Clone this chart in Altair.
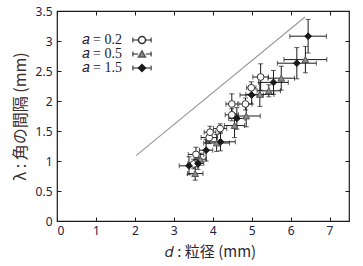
import altair as alt
import pandas as pd

# ---- data ----
series = ["𝑎 = 0.2", "𝑎 = 0.5", "𝑎 = 1.5"]

d02 = [3.51, 3.57, 3.91, 3.93, 4.19, 4.49, 4.49, 4.84, 4.99, 5.23]
l02 = [0.95, 1.11, 1.39, 1.48, 1.54, 1.77, 1.95, 1.95, 2.22, 2.40]
dx02 = [0.15, 0.20, 0.21, 0.15, 0.17, 0.17, 0.15, 0.17, 0.12, 0.20]
dy02 = [0.08, 0.12, 0.10, 0.10, 0.08, 0.10, 0.17, 0.10, 0.10, 0.22]

d05 = [3.55, 3.68, 4.10, 4.56, 4.86, 5.21, 5.44, 5.76, 6.38]
l05 = [0.79, 1.03, 1.30, 1.59, 1.75, 2.11, 2.17, 2.38, 2.69]
dx05 = [0.20, 0.15, 0.33, 0.26, 0.36, 0.36, 0.30, 0.34, 0.55]
dy05 = [0.11, 0.10, 0.14, 0.20, 0.18, 0.20, 0.10, 0.20, 0.22]

d15 = [3.39, 3.62, 3.83, 4.20, 4.62, 5.00, 5.56, 6.16, 6.45]
l15 = [0.92, 0.96, 1.18, 1.32, 1.71, 2.10, 2.31, 2.63, 3.08]
dx15 = [0.25, 0.15, 0.17, 0.38, 0.21, 0.30, 0.38, 0.50, 0.47]
dy15 = [0.15, 0.10, 0.18, 0.15, 0.18, 0.15, 0.20, 0.26, 0.28]

line_d = [2.03, 6.37]
line_l = [1.09, 3.40]

x_ticks = [0, 1, 2, 3, 4, 5, 6, 7]
y_ticks = [0, 0.5, 1, 1.5, 2, 2.5, 3, 3.5]

# ---- tables ----
rows = []
for name, d, l, dx, dy in [(series[0], d02, l02, dx02, dy02),
                           (series[1], d05, l05, dx05, dy05),
                           (series[2], d15, l15, dx15, dy15)]:
    for i in range(len(d)):
        rows.append(dict(series=name, grp=name, d=d[i], lam=l[i],
                         dlo=d[i] - dx[i], dhi=d[i] + dx[i],
                         llo=l[i] - dy[i], lhi=l[i] + dy[i]))
df = pd.DataFrame(rows)
line_df = pd.DataFrame({"x": line_d, "y": line_l})

W, H = 292, 210
xs = alt.Scale(domain=[0, 7.5], nice=False, zero=False)
ys = alt.Scale(domain=[0, 3.5], nice=False, zero=False)

LABEL_FONT = "Noto Sans"
LABEL_COLOR = "#1e2340"
ERR = "#1a1a1a"

base = alt.Chart(df)

xerr = base.mark_errorbar(ticks={"size": 5}, color=ERR, thickness=1).encode(
    x=alt.X("dlo:Q", scale=xs, axis=None), x2="dhi:Q",
    y=alt.Y("lam:Q", scale=ys, axis=None))
yerr = base.mark_errorbar(ticks={"size": 5}, color=ERR, thickness=1).encode(
    y=alt.Y("llo:Q", scale=ys, axis=None), y2="lhi:Q",
    x=alt.X("d:Q", scale=xs, axis=None))

leg_common = dict(orient="none", legendX=78, legendY=22, title=None, padding=0,
                  rowPadding=0, symbolSize=49, labelAlign="right", labelOffset={"expr": "-27"},
                  labelFont="Liberation Serif", labelFontSize=14, labelColor="#1a1a2e",
                  labelLimit=200)
leg_main = alt.Legend(**leg_common)

points = base.mark_point(size=46, strokeWidth=1, opacity=1).encode(
    x=alt.X("d:Q", scale=xs, axis=None),
    y=alt.Y("lam:Q", scale=ys, axis=None),
    shape=alt.Shape("series:N", scale=alt.Scale(domain=series, range=["circle", "triangle-up", "diamond"]), legend=leg_main),
    fill=alt.Fill("series:N", scale=alt.Scale(domain=series, range=["white", "#8a8a8a", "#1a1a1a"]), legend=leg_main),
    stroke=alt.Stroke("series:N", scale=alt.Scale(domain=series, range=["#333333", "#555555", "#1a1a1a"]), legend=leg_main),
)

bar_path = "M-2.6,0L-1.1,0M1.1,0L2.6,0M-2.6,-0.7L-2.6,0.7M2.6,-0.7L2.6,0.7"
leg_bar = alt.Legend(**{**leg_common, "symbolType": bar_path, "symbolStrokeColor": ERR,
                        "symbolFillColor": "transparent", "symbolOpacity": 1,
                        "symbolStrokeWidth": 1, "labelOpacity": 0})
hidden = base.mark_point(opacity=0).encode(
    x=alt.X("d:Q", scale=xs, axis=None),
    y=alt.Y("lam:Q", scale=ys, axis=None),
    size=alt.Size("grp:O", scale=alt.Scale(domain=series, range=[49, 49, 49]), legend=leg_bar),
)

line = alt.Chart(line_df).mark_line(color="#9a9a9a", strokeWidth=1.2).encode(
    x=alt.X("x:Q", scale=xs, axis=None), y=alt.Y("y:Q", scale=ys, axis=None))

# axes: labels + titles
ax_main = alt.Chart(line_df).mark_point(opacity=0).encode(
    x=alt.X("x:Q", scale=xs, axis=alt.Axis(
        orient="bottom", values=x_ticks, format="~g", ticks=False, domain=False, grid=False,
        labelFont=LABEL_FONT, labelFontSize=12, labelColor=LABEL_COLOR, labelPadding=4,
        title="𝑑 : 粒径 (mm)", titleFont="Noto Sans CJK JP", titleFontSize=15,
        titleFontWeight="normal", titleColor="#2a2a33", titlePadding=8,
        titleX=153, titleAlign="center")),
    y=alt.Y("y:Q", scale=ys, axis=alt.Axis(
        orient="left", values=y_ticks, format="~g", ticks=False, domain=False, grid=False,
        labelFont=LABEL_FONT, labelFontSize=12, labelColor=LABEL_COLOR, labelPadding=5,
        title="λ : 角の間隔 (mm)", titleFont="Noto Sans CJK JP", titleFontSize=16,
        titleFontWeight="normal", titleColor="#3d3030", titlePadding=7)),
)

def inner_axes(xo, yo):
    return alt.Chart(line_df).mark_point(opacity=0).encode(
        x=alt.X("x:Q", scale=xs, axis=alt.Axis(
            orient=xo, offset={"expr": str(-H)}, values=x_ticks, labels=False, domain=False, grid=False,
            ticks=True, tickSize=4, tickColor="#1a1a1a", title=None)),
        y=alt.Y("y:Q", scale=ys, axis=alt.Axis(
            orient=yo, offset={"expr": str(-W)}, values=y_ticks, labels=False, domain=False, grid=False,
            ticks=True, tickSize=4, tickColor="#1a1a1a", title=None)),
    )

ax_in1 = inner_axes("top", "right")
ax_in2 = inner_axes("bottom", "left")

chart = alt.layer(ax_main, ax_in1, ax_in2, line, xerr, yerr, hidden, points).resolve_axis(
    x="independent", y="independent"
).resolve_legend(size="independent").properties(
    width=W, height=H,
    autosize=alt.AutoSizeParams(type="none"),
    padding={"left": 57, "top": 11, "right": 14, "bottom": 45},
    background="white",
).configure_view(stroke="#1a1a1a", strokeWidth=1.2)

chart.save("out.html", embed_options={"renderer": "svg", "actions": False})
